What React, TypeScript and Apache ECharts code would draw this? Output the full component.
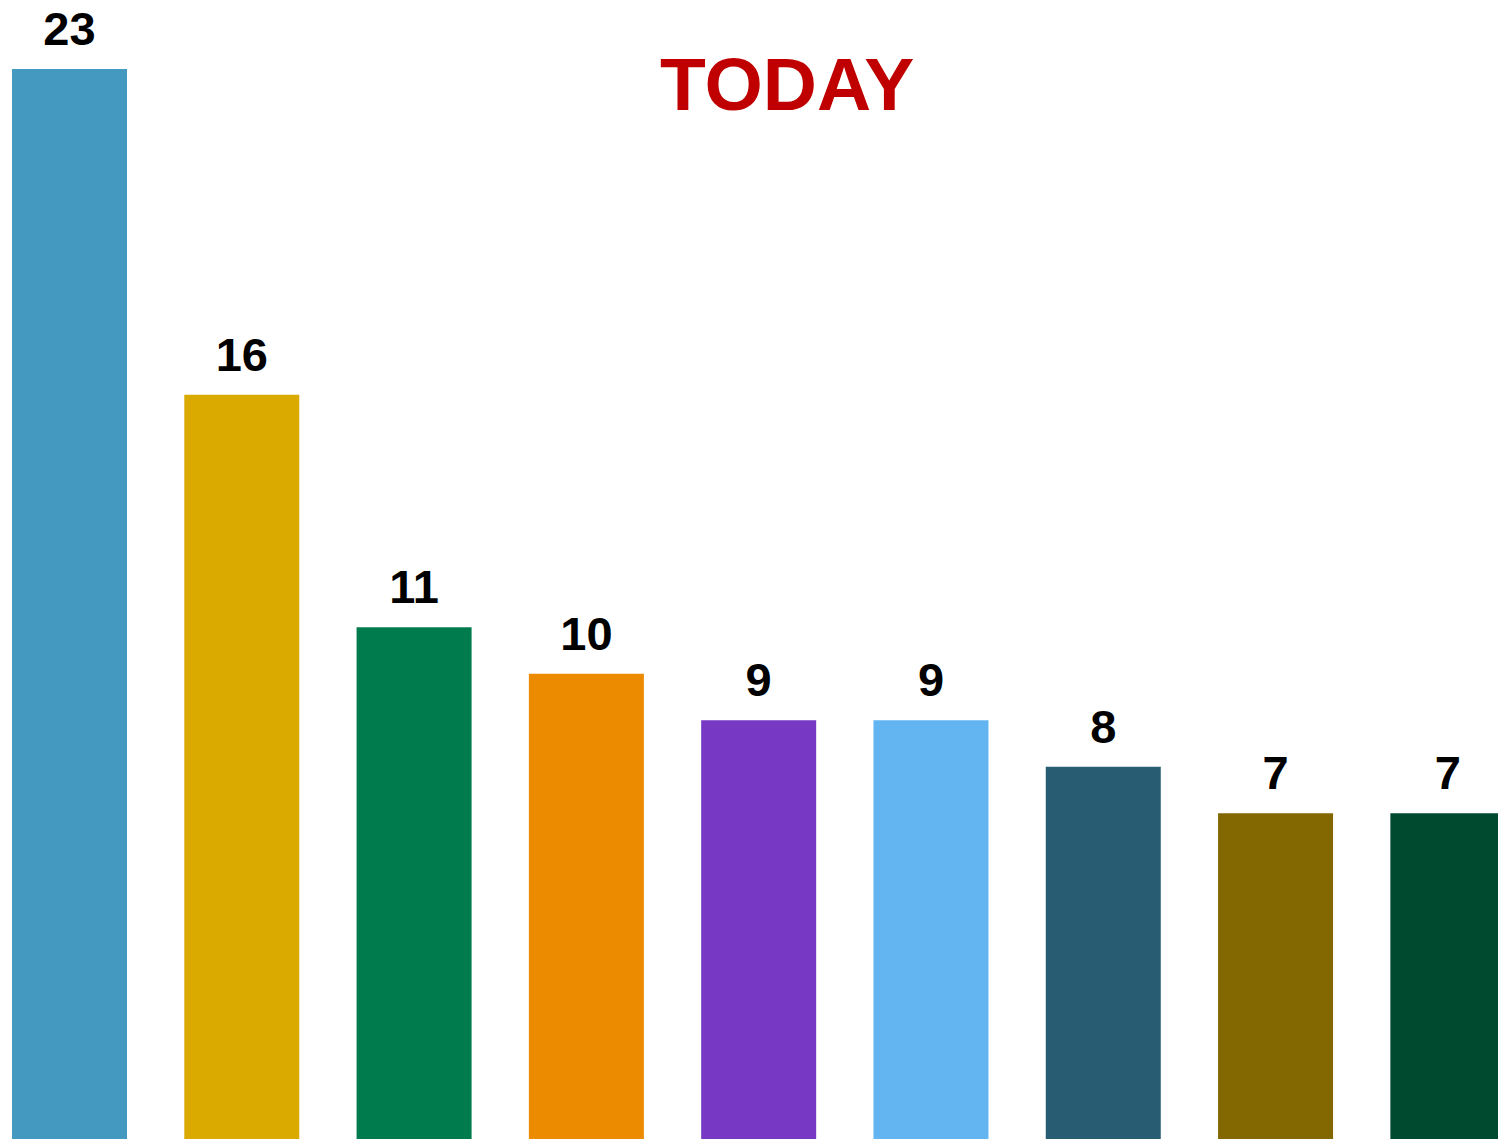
import React, { useEffect, useRef } from "react";
import * as echarts from "echarts";

const categories = ["A", "B", "C", "D", "E", "F", "G", "H", "I"];
const values = [23, 16, 11, 10, 9, 9, 8, 7, 7];
const colors = ["#4499C0", "#DAAA00", "#007B4E", "#EC8A00", "#7739C4", "#62B5F1", "#275C72", "#836700", "#004B30"];
const titleText = "TODAY";

export default function App() {
  const ref = useRef<HTMLDivElement>(null);
  useEffect(() => {
    if (!ref.current) return;
    document.documentElement.style.overflow = "hidden";
    document.body.style.overflow = "hidden";
    const chart = echarts.init(ref.current, null, { renderer: "svg" });
    chart.setOption({
      animation: false,
      backgroundColor: "#ffffff",
      title: {
        text: titleText,
        left: 672,
        top: 41,
        textStyle: {
          color: "#C00000",
          fontSize: 75,
          fontWeight: "bold",
          fontFamily: "Liberation Sans, Arial, sans-serif",
        },
      },
      grid: { left: 0.35, right: 0, top: 69, bottom: 1, containLabel: false },
      xAxis: {
        type: "category",
        data: categories,
        axisLine: { show: false },
        axisTick: { show: false },
        axisLabel: { show: false },
        splitLine: { show: false },
      },
      yAxis: {
        type: "value",
        min: 0,
        max: 23,
        show: false,
        splitLine: { show: false },
      },
      series: [
        {
          type: "bar",
          barWidth: 115,
          data: values.map((v, i) => ({ value: v, itemStyle: { color: colors[i] } })),
          label: {
            show: true,
            position: "top",
            distance: 17,
            color: "#000000",
            fontSize: 47,
            fontWeight: "bold",
            fontFamily: "Liberation Sans, Arial, sans-serif",
          },
        },
      ],
    });
    return () => chart.dispose();
  }, []);
  return (
    <div
      ref={ref}
      style={{ position: "absolute", left: -17, top: 0, width: 1551, height: 1140 }}
    />
  );
}
